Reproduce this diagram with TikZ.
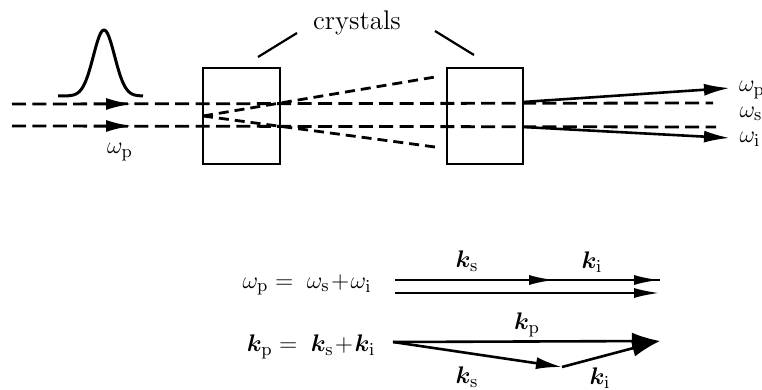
\documentclass[tikz,border=0pt]{standalone}
\usepackage{bm}
\usetikzlibrary{arrows.meta}
\tikzset{
  beam/.style={line width=1.4pt, dash pattern=on 7pt off 3.2pt},
  fan/.style={line width=1.4pt, dash pattern=on 5pt off 3pt},
  crystal/.style={line width=1.4pt},
  solidray/.style={line width=1.3pt},
  lbl/.style={inner sep=0pt, font=\fontsize{12.5}{15}\selectfont},
  tipA/.style={-{Latex[length=13pt,width=6pt]}},
  tipB/.style={-{Latex[length=13pt,width=5pt]}},
  tipC/.style={-{Latex[length=14pt,width=8.5pt]}},
}
\begin{document}
\begin{tikzpicture}[x=0.5pt,y=-0.5pt]
\useasboundingbox (0,0) rectangle (762,390);
\clip (0,0) rectangle (762,390);
% pulse
\draw[line width=1.5pt, line join=round] plot[domain=58:143, samples=90, smooth] (\x,{96-66*exp(-((\x-104)/15)^2)});
% crystals
\draw[crystal] (203,68) rectangle (280,164);
\draw[crystal] (447,68) rectangle (523,164);
\coordinate (c1in) at (203,116);
\coordinate (fanU) at (435,77);
\coordinate (fanL) at (435,147);
\coordinate (pUa) at (12,104); \coordinate (pUb) at (713,103);
\coordinate (pLa) at (12,126); \coordinate (pLb) at (716,127);
% beams
\draw[beam] (pUa) -- (pUb);
\draw[beam] (pLa) -- (pLb);
\draw[tipA, line width=1.3pt] (118,104) -- (132,104);
\draw[tipA, line width=1.3pt] (118,126) -- (132,126);
\draw[fan] (c1in) -- (fanU);
\draw[fan] (c1in) -- (fanL);
% output rays
\coordinate (oU) at (523,102); \coordinate (oUe) at (730,88);
\coordinate (oL) at (523,127); \coordinate (oLe) at (730,138);
\draw[solidray, tipA] (oU) -- (oUe);
\draw[solidray, tipA] (oL) -- (oLe);
% labels
\node[lbl] (wp) at (120,152) {$\omega_\mathrm{p}$};
\node[lbl] (wpr) at (752,90) {$\omega_\mathrm{p}$};
\node[lbl] (wsr) at (751,114) {$\omega_\mathrm{s}$};
\node[lbl] (wir) at (750,139) {$\omega_\mathrm{i}$};
\node[lbl, font=\fontsize{13.5}{16}\selectfont] (cry) at (357,23) {crystals};
\coordinate (l1a) at (297,33); \coordinate (l1b) at (258,57);
\coordinate (l2a) at (435,31); \coordinate (l2b) at (474,55);
\draw[line width=1.1pt] (l1a) -- (l1b);
\draw[line width=1.1pt] (l2a) -- (l2b);
% bottom equations
\node[lbl] (eq1) at (307,285) {$\omega_\mathrm{p} =\; \omega_\mathrm{s}\!+\!\omega_\mathrm{i}$};
\node[lbl] (eq2) at (311,347) {$\bm{k}_\mathrm{p} =\; \bm{k}_\mathrm{s}\!+\!\bm{k}_\mathrm{i}$};
% double arrows
\coordinate (d1a) at (395,280); \coordinate (d1m) at (555,280); \coordinate (d1b) at (660,280);
\coordinate (d2a) at (395,293); \coordinate (d2b) at (660,293);
\draw[line width=1.3pt] (d1a) -- (d1b);
\draw[tipB, line width=1.3pt] (540,280) -- (d1m);
\draw[tipB, line width=1.3pt] (640,280) -- (d1b);
\draw[tipB, line width=1.3pt] (d2a) -- (d2b);
\node[lbl] (ks1) at (467,261) {$\bm{k}_\mathrm{s}$};
\node[lbl] (ki1) at (592,262) {$\bm{k}_\mathrm{i}$};
% triangle
\coordinate (t0) at (393,342); \coordinate (t1) at (562,367); \coordinate (t2) at (660,341);
\draw[tipC, line width=1.3pt] (t0) -- (t2);
\draw[tipA, line width=1.3pt] (t0) -- (t1);
\draw[tipC, line width=1.3pt] (t1) -- (t2);
\node[lbl] (kp) at (527,325) {$\bm{k}_\mathrm{p}$};
\node[lbl] (ks2) at (467,377) {$\bm{k}_\mathrm{s}$};
\node[lbl] (ki2) at (600,378) {$\bm{k}_\mathrm{i}$};
\end{tikzpicture}
\end{document}
